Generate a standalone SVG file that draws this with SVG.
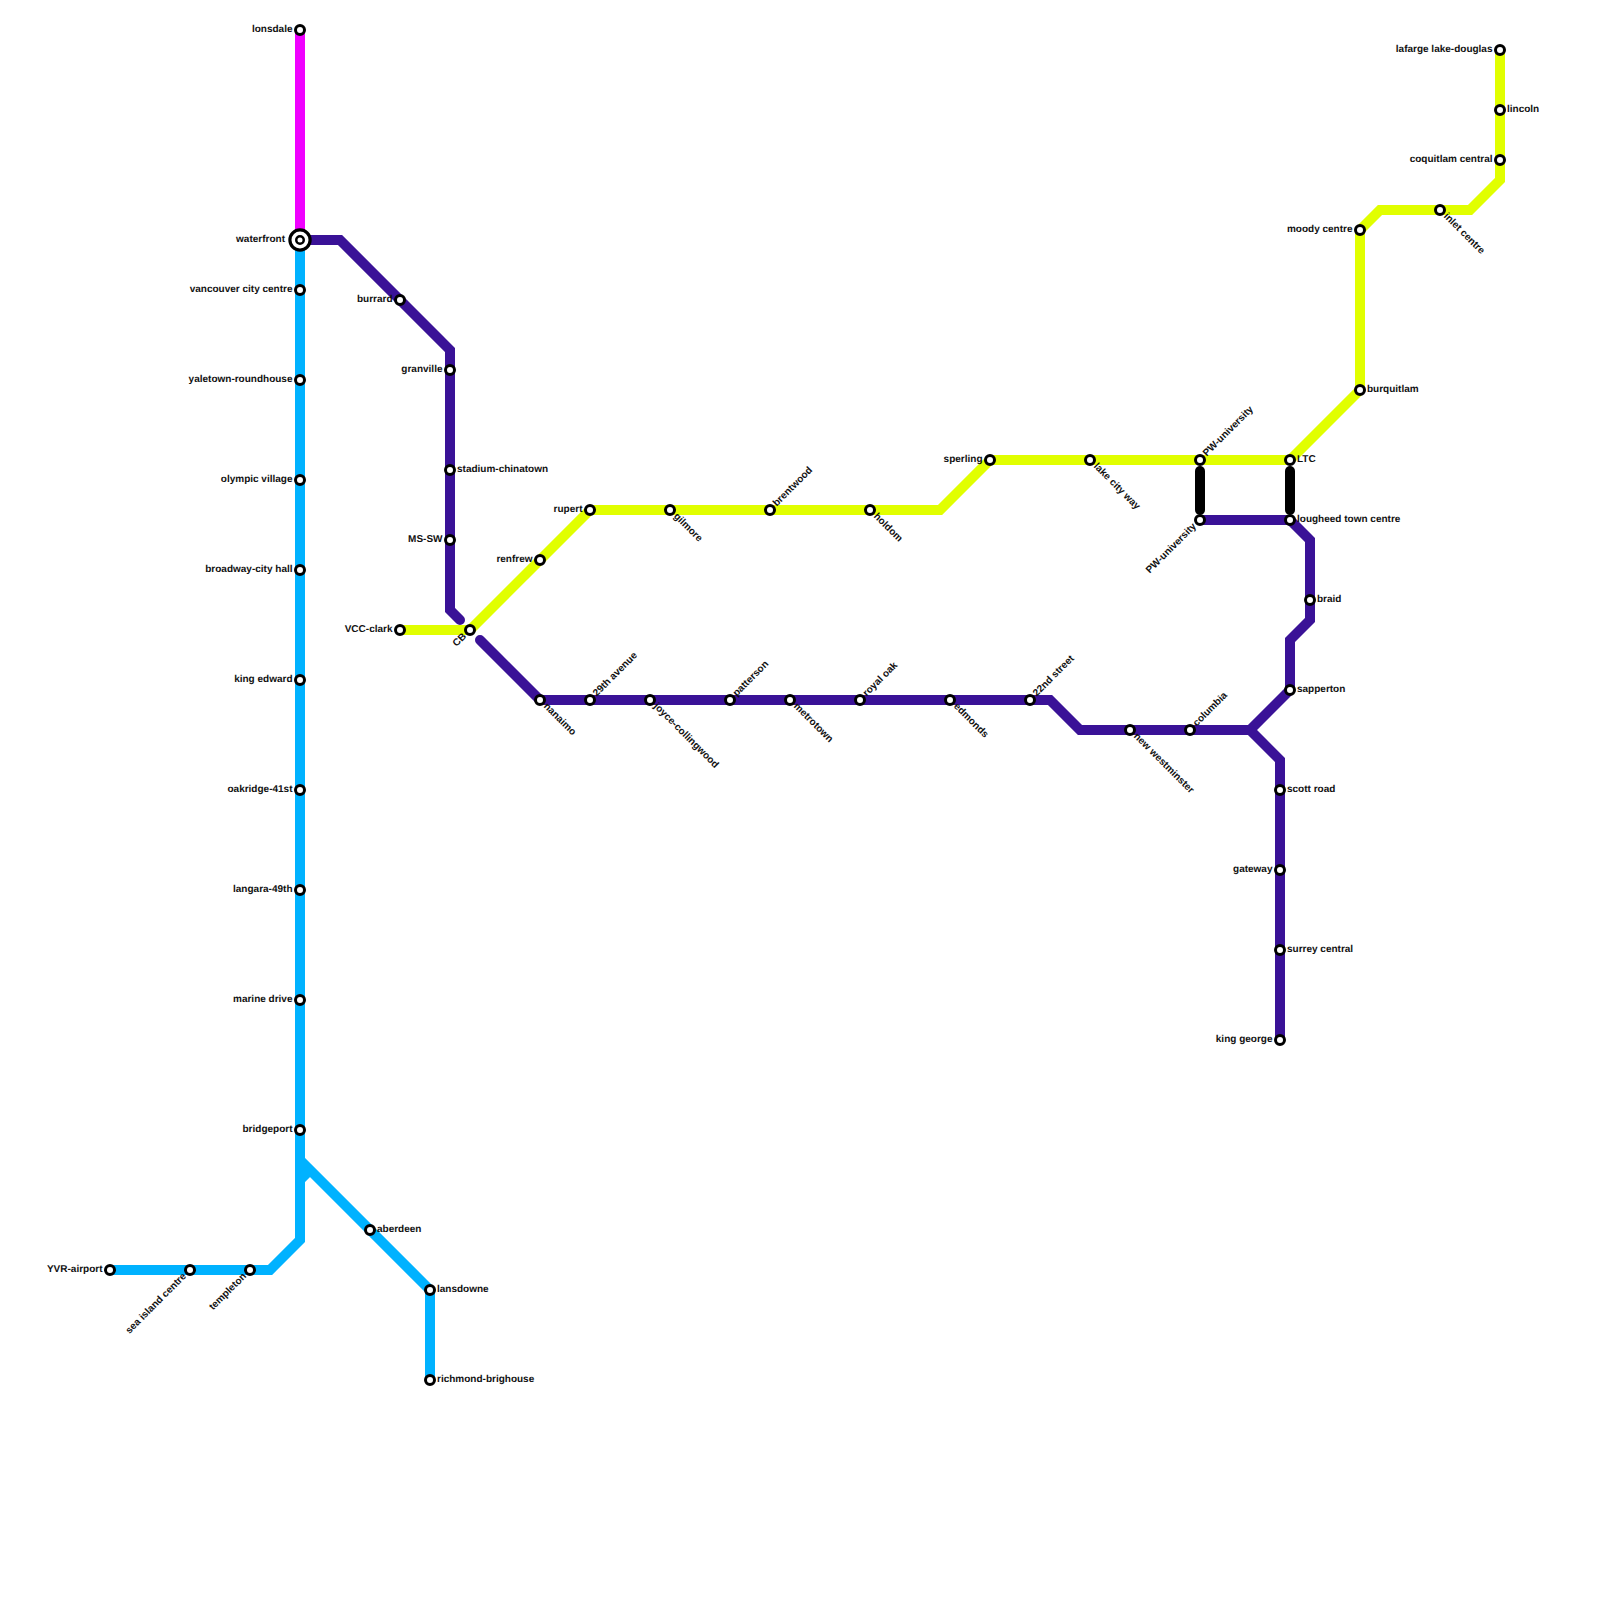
<svg xmlns="http://www.w3.org/2000/svg" width="1600" height="1600" viewBox="0 0 1600 1600">
<style>
.l{fill:none;stroke-width:10;stroke-linejoin:miter}
.b{stroke:#00b2ff}.p{stroke:#3a1297}.y{stroke:#e1ff00}.m{stroke:#f000ff}
.k{fill:none;stroke:#000;stroke-width:10;stroke-linecap:round}
.s{fill:#fff;stroke:#000;stroke-width:3}
.i{fill:#fff;stroke:#000;stroke-width:3.2}
.c{fill:#fff;stroke:#000;stroke-width:2.5}
text{font-family:"Liberation Sans",Arial,sans-serif;font-size:10px;font-weight:700;fill:#111;dominant-baseline:central;text-rendering:geometricPrecision}
.e{text-anchor:end}
</style>
<rect width="1600" height="1600" fill="#fff"/>
<g id="connectors">
<path class="l m" d="M300 30V240"/>
<path class="l b" d="M300 240V1240L270 1270H110"/>
<path class="l b" d="M300 1160L430 1290V1380"/>
<path class="l b" d="M300 1180L310 1170"/>
<path class="l p" stroke-linecap="round" d="M300 240H340L450 350V610L460 620"/>
<path class="l p" stroke-linecap="round" d="M480 640L540 700H1050L1080 730H1250L1290 690V640L1310 620V540L1290 520H1200"/>
<path class="l p" d="M1250 730L1280 760V1040"/>
<path class="l y" d="M400 630H470L590 510H940L990 460H1290L1360 390V230L1380 210H1470L1500 180V50"/>
<path class="k" d="M1200 471V510"/>
<path class="k" d="M1290 471V510"/>
</g>
<g id="waterfront"><circle class="i" cx="300" cy="240" r="10.1"/><circle class="c" cx="300" cy="240" r="3.75"/><text class="e" x="285" y="239.5">waterfront</text></g>
<g id="lonsdale"><circle class="s" cx="300" cy="30" r="4.5"/><text class="e" x="292.5" y="29.5">lonsdale</text></g>
<g id="vancouver-city-centre"><circle class="s" cx="300" cy="290" r="4.5"/><text class="e" x="292.5" y="289.5">vancouver city centre</text></g>
<g id="yaletown-roundhouse"><circle class="s" cx="300" cy="380" r="4.5"/><text class="e" x="292.5" y="379.5">yaletown-roundhouse</text></g>
<g id="olympic-village"><circle class="s" cx="300" cy="480" r="4.5"/><text class="e" x="292.5" y="479.5">olympic village</text></g>
<g id="broadway-city-hall"><circle class="s" cx="300" cy="570" r="4.5"/><text class="e" x="292.5" y="569.5">broadway-city hall</text></g>
<g id="king-edward"><circle class="s" cx="300" cy="680" r="4.5"/><text class="e" x="292.5" y="679.5">king edward</text></g>
<g id="oakridge-41st"><circle class="s" cx="300" cy="790" r="4.5"/><text class="e" x="292.5" y="789.5">oakridge-41st</text></g>
<g id="langara-49th"><circle class="s" cx="300" cy="890" r="4.5"/><text class="e" x="292.5" y="889.5">langara-49th</text></g>
<g id="marine-drive"><circle class="s" cx="300" cy="1000" r="4.5"/><text class="e" x="292.5" y="999.5">marine drive</text></g>
<g id="bridgeport"><circle class="s" cx="300" cy="1130" r="4.5"/><text class="e" x="292.5" y="1129.5">bridgeport</text></g>
<g id="aberdeen"><circle class="s" cx="370" cy="1230" r="4.5"/><text x="377" y="1229.5">aberdeen</text></g>
<g id="lansdowne"><circle class="s" cx="430" cy="1290" r="4.5"/><text x="437" y="1289.5">lansdowne</text></g>
<g id="richmond-brighouse"><circle class="s" cx="430" cy="1380" r="4.5"/><text x="437" y="1379.5">richmond-brighouse</text></g>
<g id="yvr-airport"><circle class="s" cx="110" cy="1270" r="4.5"/><text class="e" x="102.5" y="1269.5">YVR-airport</text></g>
<g id="sea-island-centre"><circle class="s" cx="190" cy="1270" r="4.5"/><text class="e" transform="translate(185 1275) rotate(-45)">sea island centre</text></g>
<g id="templeton"><circle class="s" cx="250" cy="1270" r="4.5"/><text class="e" transform="translate(245 1275) rotate(-45)">templeton</text></g>
<g id="burrard"><circle class="s" cx="400" cy="300" r="4.5"/><text class="e" x="392.5" y="299.5">burrard</text></g>
<g id="granville"><circle class="s" cx="450" cy="370" r="4.5"/><text class="e" x="442.5" y="369.5">granville</text></g>
<g id="stadium-chinatown"><circle class="s" cx="450" cy="470" r="4.5"/><text x="457" y="469.5">stadium-chinatown</text></g>
<g id="ms-sw"><circle class="s" cx="450" cy="540" r="4.5"/><text class="e" x="442.5" y="539.5">MS-SW</text></g>
<g id="vcc-clark"><circle class="s" cx="400" cy="630" r="4.5"/><text class="e" x="392.5" y="629.5">VCC-clark</text></g>
<g id="cb"><circle class="s" cx="470" cy="630" r="4.5"/><text class="e" transform="translate(465 635) rotate(-45)">CB</text></g>
<g id="renfrew"><circle class="s" cx="540" cy="560" r="4.5"/><text class="e" x="532.5" y="559.5">renfrew</text></g>
<g id="rupert"><circle class="s" cx="590" cy="510" r="4.5"/><text class="e" x="582.5" y="509.5">rupert</text></g>
<g id="gilmore"><circle class="s" cx="670" cy="510" r="4.5"/><text transform="translate(675 515) rotate(45)">gilmore</text></g>
<g id="brentwood"><circle class="s" cx="770" cy="510" r="4.5"/><text transform="translate(775 505) rotate(-45)">brentwood</text></g>
<g id="holdom"><circle class="s" cx="870" cy="510" r="4.5"/><text transform="translate(875 515) rotate(45)">holdom</text></g>
<g id="sperling"><circle class="s" cx="990" cy="460" r="4.5"/><text class="e" x="982.5" y="459.5">sperling</text></g>
<g id="lake-city-way"><circle class="s" cx="1090" cy="460" r="4.5"/><text transform="translate(1095 465) rotate(45)">lake city way</text></g>
<g id="pw-university-y"><circle class="s" cx="1200" cy="460" r="4.5"/><text transform="translate(1205 455) rotate(-45)">PW-university</text></g>
<g id="ltc"><circle class="s" cx="1290" cy="460" r="4.5"/><text x="1297" y="459.5">LTC</text></g>
<g id="burquitlam"><circle class="s" cx="1360" cy="390" r="4.5"/><text x="1367" y="389.5">burquitlam</text></g>
<g id="moody-centre"><circle class="s" cx="1360" cy="230" r="4.5"/><text class="e" x="1352.5" y="229.5">moody centre</text></g>
<g id="inlet-centre"><circle class="s" cx="1440" cy="210" r="4.5"/><text transform="translate(1445 215) rotate(45)">inlet centre</text></g>
<g id="coquitlam-central"><circle class="s" cx="1500" cy="160" r="4.5"/><text class="e" x="1492.5" y="159.5">coquitlam central</text></g>
<g id="lincoln"><circle class="s" cx="1500" cy="110" r="4.5"/><text x="1507" y="109.5">lincoln</text></g>
<g id="lafarge-lake-douglas"><circle class="s" cx="1500" cy="50" r="4.5"/><text class="e" x="1492.5" y="49.5">lafarge lake-douglas</text></g>
<g id="nanaimo"><circle class="s" cx="540" cy="700" r="4.5"/><text transform="translate(545 705) rotate(45)">nanaimo</text></g>
<g id="avenue-29th"><circle class="s" cx="590" cy="700" r="4.5"/><text transform="translate(595 695) rotate(-45)">29th avenue</text></g>
<g id="joyce-collingwood"><circle class="s" cx="650" cy="700" r="4.5"/><text transform="translate(655 705) rotate(45)">joyce-collingwood</text></g>
<g id="patterson"><circle class="s" cx="730" cy="700" r="4.5"/><text transform="translate(735 695) rotate(-45)">patterson</text></g>
<g id="metrotown"><circle class="s" cx="790" cy="700" r="4.5"/><text transform="translate(795 705) rotate(45)">metrotown</text></g>
<g id="royal-oak"><circle class="s" cx="860" cy="700" r="4.5"/><text transform="translate(865 695) rotate(-45)">royal oak</text></g>
<g id="edmonds"><circle class="s" cx="950" cy="700" r="4.5"/><text transform="translate(955 705) rotate(45)">edmonds</text></g>
<g id="street-22nd"><circle class="s" cx="1030" cy="700" r="4.5"/><text transform="translate(1035 695) rotate(-45)">22nd street</text></g>
<g id="new-westminster"><circle class="s" cx="1130" cy="730" r="4.5"/><text transform="translate(1135 735) rotate(45)">new westminster</text></g>
<g id="columbia"><circle class="s" cx="1190" cy="730" r="4.5"/><text transform="translate(1195 725) rotate(-45)">columbia</text></g>
<g id="sapperton"><circle class="s" cx="1290" cy="690" r="4.5"/><text x="1297" y="689.5">sapperton</text></g>
<g id="braid"><circle class="s" cx="1310" cy="600" r="4.5"/><text x="1317" y="599.5">braid</text></g>
<g id="lougheed-town-centre"><circle class="s" cx="1290" cy="520" r="4.5"/><text x="1297" y="519.5">lougheed town centre</text></g>
<g id="pw-university-p"><circle class="s" cx="1200" cy="520" r="4.5"/><text class="e" transform="translate(1195 525) rotate(-45)">PW-university</text></g>
<g id="scott-road"><circle class="s" cx="1280" cy="790" r="4.5"/><text x="1287" y="789.5">scott road</text></g>
<g id="gateway"><circle class="s" cx="1280" cy="870" r="4.5"/><text class="e" x="1272.5" y="869.5">gateway</text></g>
<g id="surrey-central"><circle class="s" cx="1280" cy="950" r="4.5"/><text x="1287" y="949.5">surrey central</text></g>
<g id="king-george"><circle class="s" cx="1280" cy="1040" r="4.5"/><text class="e" x="1272.5" y="1039.5">king george</text></g>
</svg>
